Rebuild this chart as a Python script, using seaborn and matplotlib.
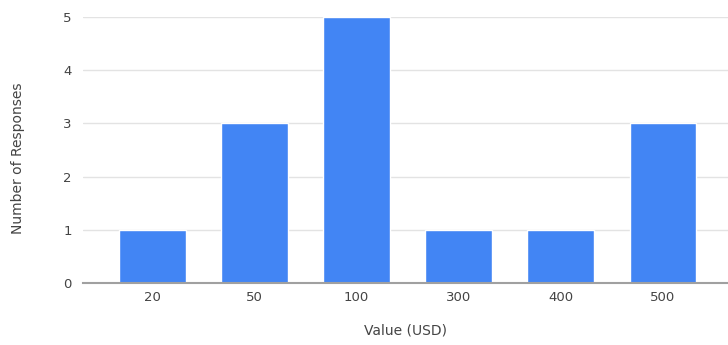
import matplotlib
matplotlib.use("Agg")
import matplotlib.pyplot as plt
import seaborn as sns
import pandas as pd

values = ["20", "50", "100", "300", "400", "500"]
responses = [1, 3, 5, 1, 1, 3]

df = pd.DataFrame({"Value (USD)": values, "Number of Responses": responses})

sns.set_theme(style="white")
plt.rcParams["font.family"] = ["DejaVu Sans"]

text_color = "#444444"

fig = plt.figure(figsize=(7.28, 3.45), dpi=100)
ax = fig.add_axes([0.114, 0.18, 0.886, 0.7705])

sns.barplot(data=df, x="Value (USD)", y="Number of Responses", color="#4285F4",
            saturation=1, width=0.65, ax=ax, zorder=3)

ax.set_ylim(0, 5)
ax.set_yticks(range(0, 6))
ax.set_xlim(-0.68, 5.64)
ax.grid(axis="y", color="#e3e3e3", linewidth=1, zorder=0)
ax.set_axisbelow(True)
for s in ["top", "right", "left"]:
    ax.spines[s].set_visible(False)
ax.spines["bottom"].set_color("#a0a0a0")
ax.spines["bottom"].set_linewidth(1.5)
ax.spines["bottom"].set_zorder(4)
ax.tick_params(axis="both", length=0, labelsize=9.5, colors=text_color)
ax.tick_params(axis="x", pad=6)
ax.tick_params(axis="y", pad=8)
ax.set_xlabel("Value (USD)", fontsize=10, color=text_color, labelpad=14)
ax.set_ylabel("")
fig.text(18 / 728, 1 - 158 / 345, "Number of Responses", rotation=90,
         ha="center", va="center", fontsize=10, color=text_color)

fig.savefig("out.png", dpi=100)
